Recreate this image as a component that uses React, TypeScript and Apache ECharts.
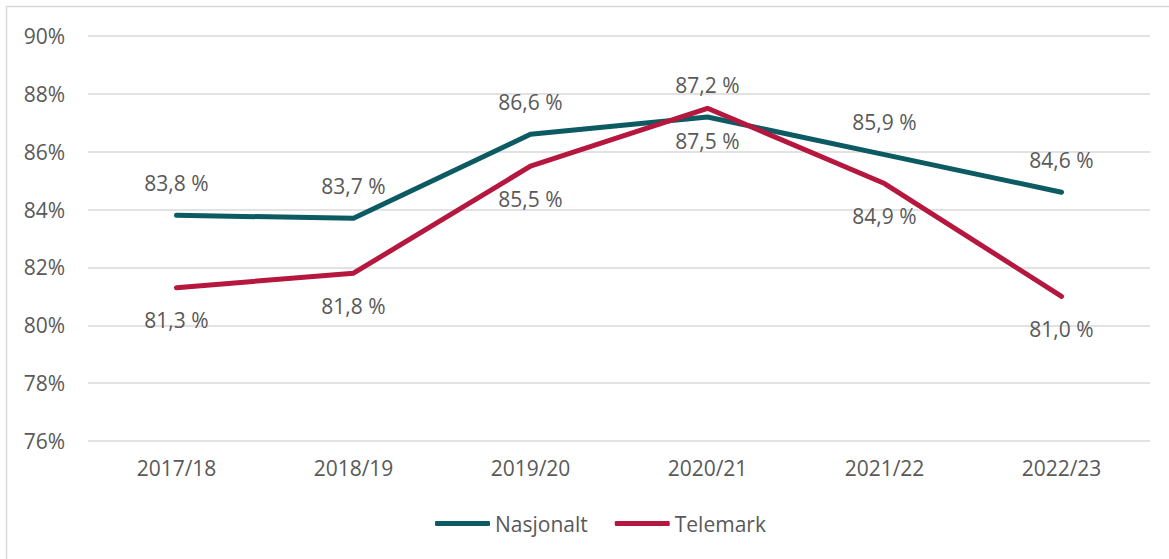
import React, { useEffect, useRef } from "react";
import * as echarts from "echarts";

const categories = ["2017/18", "2018/19", "2019/20", "2020/21", "2021/22", "2022/23"];
const nasjonalt = [83.8, 83.7, 86.6, 87.2, 85.9, 84.6];
const telemark = [81.3, 81.8, 85.5, 87.5, 84.9, 81.0];
const yTicks = [76, 78, 80, 82, 84, 86, 88, 90];

const FONT = "'Open Sans', sans-serif";
const TEXT = "#595959";
const FS = 21;
const fmt = (v: number) => v.toFixed(1).replace(".", ",") + " %";

export default function App() {
  const ref = useRef<HTMLDivElement>(null);
  useEffect(() => {
    document.body.style.margin = "0";
    const chart = echarts.init(ref.current!, null, { renderer: "svg" });
    chart.setOption({
      animation: false,
      textStyle: { fontFamily: FONT, color: TEXT },
      graphic: [
        {
          type: "rect",
          shape: { x: 6.5, y: 6.5, width: 1300, height: 700 },
          style: { fill: "none", stroke: "#d9d9d9", lineWidth: 1.5 },
          silent: true,
        },
      ],
      grid: { left: 88, right: 19, top: 36, bottom: 118, containLabel: false },
      legend: {
        bottom: 20,
        left: 430,
        itemWidth: 55,
        itemHeight: 5,
        itemGap: 27,
        icon: "roundRect",
        textStyle: { fontFamily: FONT, fontSize: FS, color: TEXT },
        data: ["Nasjonalt", "Telemark"],
      },
      xAxis: {
        type: "category",
        data: categories,
        axisLine: { show: false },
        axisTick: { show: false },
        axisLabel: { fontFamily: FONT, fontSize: FS, color: TEXT, margin: 16 },
      },
      yAxis: {
        type: "value",
        min: yTicks[0],
        max: yTicks[yTicks.length - 1],
        interval: 2,
        axisLine: { show: false },
        axisTick: { show: false },
        splitLine: { lineStyle: { color: "#d9d9d9", width: 1.5 } },
        axisLabel: {
          fontFamily: FONT,
          fontSize: FS,
          color: TEXT,
          margin: 23,
          formatter: (v: number) => v + "%",
        },
      },
      series: [
        {
          name: "Nasjonalt",
          type: "line",
          data: nasjonalt,
          symbol: "circle",
          symbolSize: 0,
          showSymbol: true,
          lineStyle: { color: "#0c5b62", width: 5, cap: "round", join: "round" },
          itemStyle: { color: "#0c5b62" },
          label: {
            show: true,
            position: "top",
            distance: 22,
            formatter: (p: any) => fmt(p.value),
            fontFamily: FONT,
            fontSize: FS,
            color: TEXT,
          },
          z: 2,
        },
        {
          name: "Telemark",
          type: "line",
          data: telemark,
          symbol: "circle",
          symbolSize: 0,
          showSymbol: true,
          lineStyle: { color: "#b5173e", width: 5, cap: "round", join: "round" },
          itemStyle: { color: "#b5173e" },
          label: {
            show: true,
            position: "bottom",
            distance: 22,
            formatter: (p: any) => fmt(p.value),
            fontFamily: FONT,
            fontSize: FS,
            color: TEXT,
          },
          z: 3,
        },
      ],
    });
    return () => chart.dispose();
  }, []);
  return <div ref={ref} style={{ width: 1169, height: 559 }} />;
}
